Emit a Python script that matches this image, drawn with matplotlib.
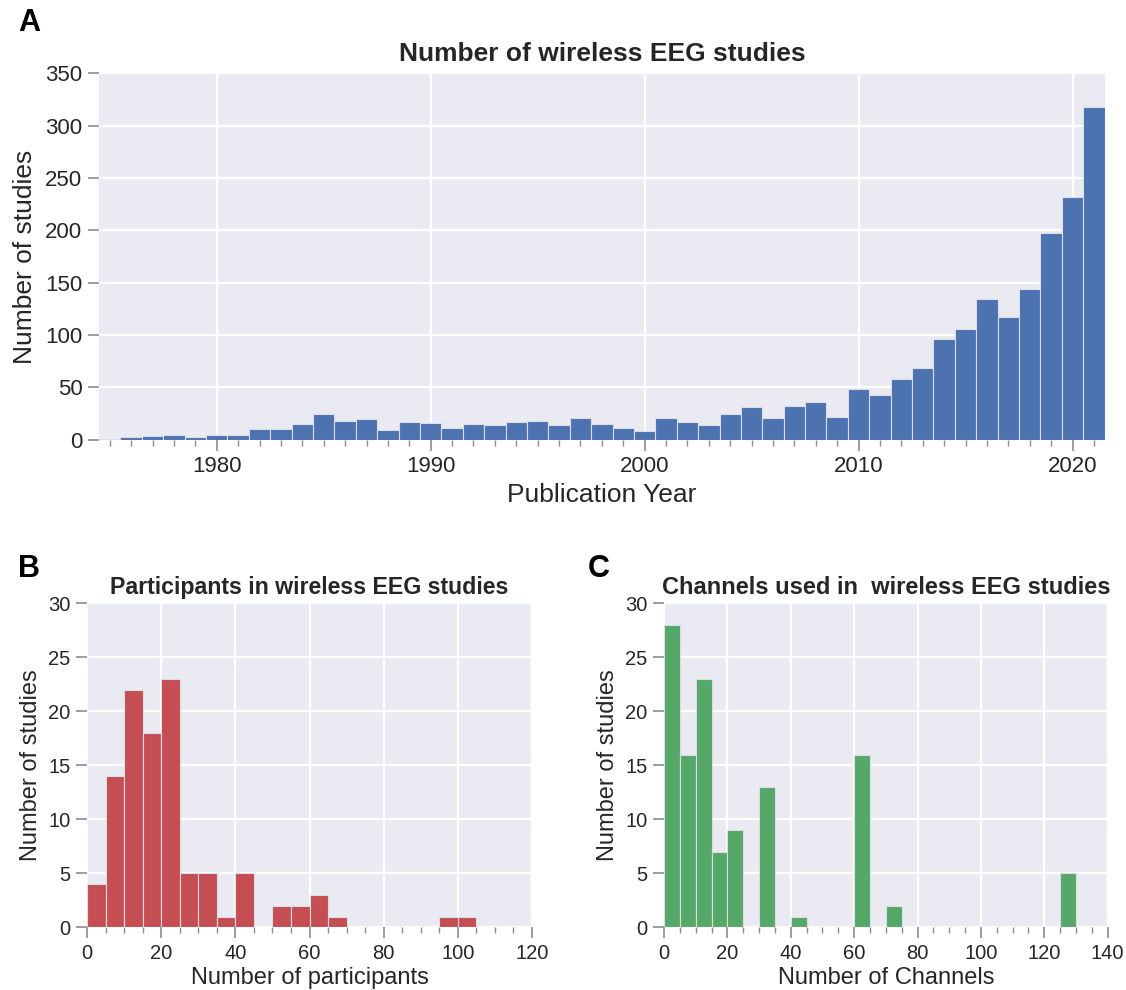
import numpy as np
import matplotlib
matplotlib.use("Agg")
from matplotlib import pyplot as plt
from matplotlib.ticker import MultipleLocator

# panel A - studies per publication year
years = np.arange(1975, 2022)
year_counts = [1, 2, 3, 4, 2, 4, 4, 10, 10, 15,
               24, 18, 20, 9, 17, 16, 11, 15, 14, 17,
               18, 14, 21, 15, 11, 8, 21, 17, 14, 24,
               31, 21, 32, 36, 22, 48, 43, 58, 68, 96,
               106, 134, 117, 144, 197, 232, 318]

# panel B - participants (bins of 5)
part_edges = np.arange(0, 110, 5)
part_counts = [4, 14, 22, 18, 23, 5, 5, 1, 5, 0, 2, 2, 3, 1, 0, 0, 0, 0, 0, 1, 1]

# panel C - channels (bins of 5)
chan_edges = np.arange(0, 135, 5)
chan_counts = [28, 16, 23, 7, 9, 0, 13, 0, 1, 0, 0, 0, 16, 0, 2,
               0, 0, 0, 0, 0, 0, 0, 0, 0, 0, 5]

plt.rcParams['font.family'] = ['Liberation Sans', 'DejaVu Sans']
txt = '#262626'
bg = '#EAEAF2'

fig = plt.figure(figsize=(11.26, 9.9), dpi=100)
axA = fig.add_axes([0.088, 0.556, 0.893, 0.370])
axB = fig.add_axes([0.0773, 0.0633, 0.3952, 0.3273])
axC = fig.add_axes([0.5897, 0.0633, 0.3940, 0.3273])


def style(ax, fs):
    ax.set_facecolor(bg)
    for s in ax.spines.values():
        s.set_visible(False)
    ax.grid(True, color='white', linewidth=1.6)
    ax.set_axisbelow(True)
    ax.tick_params(which='major', direction='out', length=8, width=1.2,
                   color='#8c8c8c', labelsize=fs, labelcolor=txt, pad=4)
    ax.tick_params(which='minor', direction='out', length=4, width=1.0,
                   color='#8c8c8c')
    ax.tick_params(axis='y', which='minor', left=False)
    ax.grid(False, which='minor')


# A
axA.bar(years, year_counts, width=1.0, color='#4C72B0',
        edgecolor='#dcdce6', linewidth=0.8)
axA.set_xlim(1974.5, 2021.5)
axA.set_ylim(0, 350)
axA.set_yticks(np.arange(0, 351, 50))
axA.xaxis.set_major_locator(MultipleLocator(10))
axA.xaxis.set_minor_locator(MultipleLocator(1))
style(axA, 16)
axA.set_title('Number of wireless EEG studies', fontsize=19, fontweight='bold',
              color=txt, pad=9)
axA.set_xlabel('Publication Year', fontsize=19, color=txt, labelpad=4)
axA.set_ylabel('Number of studies', fontsize=19, color=txt, labelpad=6)

# B
axB.bar(part_edges[:-1], part_counts, width=5, align='edge', color='#C44E52',
        edgecolor='#dcdce6', linewidth=0.8)
axB.set_xlim(0, 120)
axB.set_ylim(0, 30)
axB.xaxis.set_major_locator(MultipleLocator(20))
axB.xaxis.set_minor_locator(MultipleLocator(5))
axB.yaxis.set_major_locator(MultipleLocator(5))
style(axB, 14.5)
axB.set_title('Participants in wireless EEG studies', fontsize=16.7,
              fontweight='bold', color=txt, pad=7)
axB.set_xlabel('Number of participants', fontsize=17, color=txt, labelpad=3)
axB.set_ylabel('Number of studies', fontsize=17, color=txt, labelpad=4)

# C
axC.bar(chan_edges[:-1], chan_counts, width=5, align='edge', color='#55A868',
        edgecolor='#dcdce6', linewidth=0.8)
axC.set_xlim(0, 140)
axC.set_ylim(0, 30)
axC.xaxis.set_major_locator(MultipleLocator(20))
axC.xaxis.set_minor_locator(MultipleLocator(5))
axC.yaxis.set_major_locator(MultipleLocator(5))
style(axC, 14.5)
axC.set_title('Channels used in  wireless EEG studies', fontsize=17,
              fontweight='bold', color=txt, pad=7)
axC.set_xlabel('Number of Channels', fontsize=17, color=txt, labelpad=3)
axC.set_ylabel('Number of studies', fontsize=17, color=txt, labelpad=4)

# panel letters
fig.text(0.016, 0.977, 'A', fontsize=22, fontweight='bold', color='black', va='center')
fig.text(0.016, 0.425, 'B', fontsize=22, fontweight='bold', color='black', va='center')
fig.text(0.522, 0.425, 'C', fontsize=22, fontweight='bold', color='black', va='center')

fig.savefig('out.png', dpi=100, facecolor='white')
